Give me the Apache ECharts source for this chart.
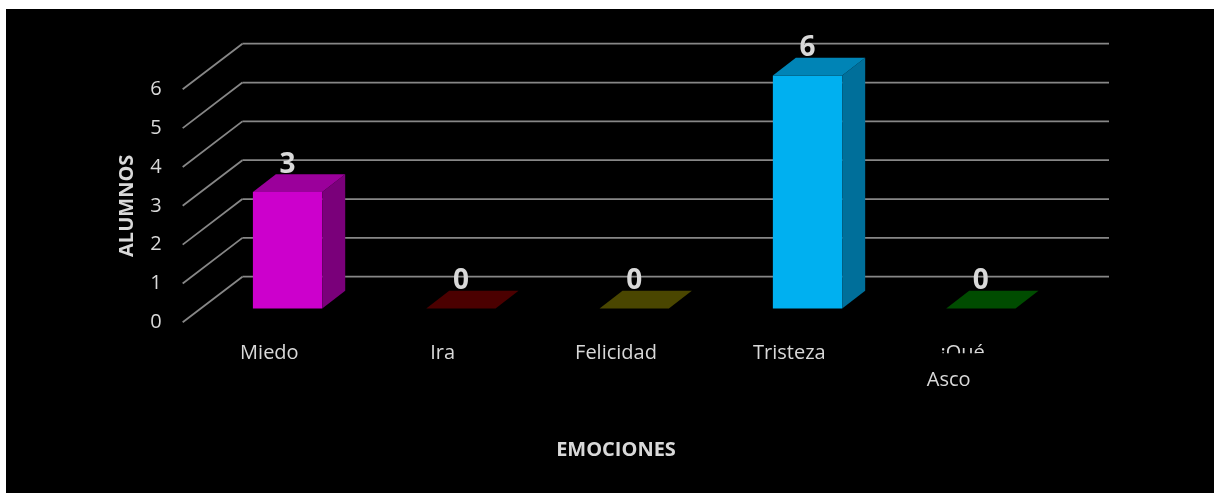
<!DOCTYPE html>
<html>
<head>
<meta charset="utf-8">
<script src="https://cdn.jsdelivr.net/npm/echarts@6/dist/echarts.min.js"></script>
<style>
  html, body { margin: 0; padding: 0; background: #ffffff; }
  #chart { position: absolute; left: 6px; top: 9px; width: 1208px; height: 484px; background: #000000; }
</style>
</head>
<body>
<div id="chart"></div>
<script>
// Emotions reported by the students
const categories = ['Miedo', 'Ira', 'Felicidad', 'Tristeza', '¡Qué Asco'];
const alumnos = [3, 0, 0, 6, 0];
const yTicks = [0, 1, 2, 3, 4, 5, 6];

// Face colours of each 3D column (front, top, right side)
const frontColors = ['#cc00cc', '#c00000', '#bfb000', '#00b0f0', '#00a040'];
const topColors   = ['#9b009b', '#4b0000', '#4a4600', '#0084b6', '#004c00'];
const sideColors  = ['#7a007a', '#3a0000', '#3a3600', '#006f9a', '#003a00'];

// Oblique projection: vector from the front plane to the back wall
const WALL = [59.7, -45.6];
const BAR_OFFSET = 0.305;   // fraction of wall depth where the column front sits
const BAR_DEPTH = 0.385;    // fraction of wall depth taken by the column
const BAR_WIDTH = 0.4;      // fraction of category band
const GRID_COLOR = '#878787';
const TEXT_COLOR = '#d9d9d9';
const FONT = '"Open Sans", "Noto Sans", sans-serif';
const LABEL_MARGIN = 17;
const LABEL_LINE = 27;

const chart = echarts.init(document.getElementById('chart'), null, { renderer: 'canvas' });

function renderWall(params, api) {
  const v = api.value(1);
  const cs = params.coordSys;
  const y = api.coord([0, v])[1];
  const left = cs.x, right = cs.x + cs.width;
  const lineStyle = { stroke: GRID_COLOR, lineWidth: 1.8, fill: null };
  return {
    type: 'group',
    children: [
      { type: 'line', shape: { x1: left, y1: y, x2: left + WALL[0], y2: y + WALL[1] }, style: lineStyle },
      { type: 'line', shape: { x1: left + WALL[0], y1: y + WALL[1], x2: right + WALL[0], y2: y + WALL[1] }, style: lineStyle }
    ]
  };
}

function renderBar(params, api) {
  const i = api.value(0);
  const v = api.value(1);
  const base = api.coord([i, 0]);
  const top = api.coord([i, v]);
  const band = api.size([1, 0])[0];
  const w = band * BAR_WIDTH;
  const ox = WALL[0] * BAR_OFFSET, oy = WALL[1] * BAR_OFFSET;
  const dx = WALL[0] * BAR_DEPTH, dy = WALL[1] * BAR_DEPTH;
  const x0 = base[0] - w / 2 + ox, x1 = base[0] + w / 2 + ox;
  const yb = base[1] + oy, yt = top[1] + oy;
  const children = [];
  if (yb - yt > 0.5) {
    children.push({ type: 'rect', shape: { x: x0, y: yt, width: w, height: yb - yt }, style: { fill: frontColors[i] } });
    children.push({ type: 'polygon', shape: { points: [[x1, yt], [x1 + dx, yt + dy], [x1 + dx, yb + dy], [x1, yb]] }, style: { fill: sideColors[i] } });
  }
  children.push({ type: 'polygon', shape: { points: [[x0, yt], [x1, yt], [x1 + dx, yt + dy], [x0 + dx, yt + dy]] }, style: { fill: topColors[i] } });
  children.push({
    type: 'text',
    x: (x0 + x1) / 2,
    y: yt - 27,
    style: {
      text: String(v),
      fill: TEXT_COLOR,
      font: 'bold 28px ' + FONT,
      align: 'center', verticalAlign: 'middle',
      textAlign: 'center', textVerticalAlign: 'middle'
    }
  });
  return { type: 'group', children: children };
}

chart.setOption({
  backgroundColor: '#000000',
  animation: false,
  grid: { left: 176.7, right: 164.7, top: 80.3, bottom: 170.7, containLabel: false },
  xAxis: {
    type: 'category',
    data: categories,
    name: 'EMOCIONES',
    nameLocation: 'middle',
    nameGap: 118,
    nameTextStyle: { color: TEXT_COLOR, fontSize: 20, fontWeight: 'bold', fontFamily: FONT },
    axisLine: { show: false },
    axisTick: { show: false },
    splitLine: { show: false },
    axisLabel: {
      interval: 0,
      margin: LABEL_MARGIN,
      color: TEXT_COLOR,
      fontSize: 20,
      fontFamily: FONT,
      lineHeight: LABEL_LINE,
      formatter: function (val) {
        const parts = val.split(' ');
        if (parts.length < 2) return val;
        return '{q|' + parts[0] + '}\n{a|' + parts.slice(1).join(' ') + '}';
      },
      rich: {
        q: { color: TEXT_COLOR, fontSize: 20, fontFamily: FONT, lineHeight: LABEL_LINE },
        a: { color: TEXT_COLOR, fontSize: 20, fontFamily: FONT, lineHeight: LABEL_LINE, padding: [0, 28, 0, 0] }
      }
    }
  },
  yAxis: {
    type: 'value',
    min: 0,
    max: 6,
    interval: 1,
    name: 'ALUMNOS',
    nameLocation: 'middle',
    nameGap: 45,
    nameRotate: 90,
    nameTextStyle: { color: TEXT_COLOR, fontSize: 20, fontWeight: 'bold', fontFamily: FONT },
    axisLine: { show: false },
    axisTick: { show: false },
    splitLine: { show: false },
    axisLabel: { color: TEXT_COLOR, fontSize: 20, fontFamily: FONT, margin: 21 }
  },
  series: [
    {
      type: 'custom',
      name: 'wall',
      z: 1,
      clip: false,
      silent: true,
      renderItem: renderWall,
      data: yTicks.map(function (t) { return [0, t]; })
    },
    {
      type: 'custom',
      name: 'ALUMNOS',
      z: 2,
      clip: false,
      renderItem: renderBar,
      data: alumnos.map(function (v, i) { return [i, v]; })
    }
  ]
});

// The wrapped last category shows only the upper half of its first line
const anchor = chart.convertToPixel({ gridIndex: 0 }, [categories.length - 1, 0]);
chart.setOption({
  graphic: [{
    type: 'rect',
    z: 100,
    silent: true,
    shape: { x: anchor[0] - 45, y: anchor[1] + LABEL_MARGIN + LABEL_LINE / 2 + 0.5, width: 90, height: 15 },
    style: { fill: '#000000' }
  }]
});
</script>
</body>
</html>
